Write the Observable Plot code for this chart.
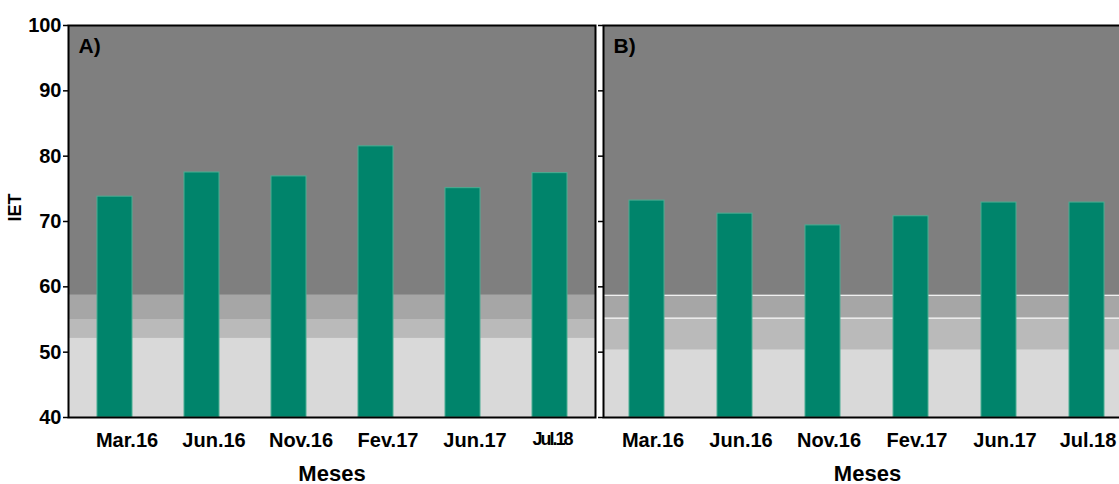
<!DOCTYPE html>
<html><head><meta charset="utf-8">
<script src="https://cdn.jsdelivr.net/npm/d3@7"></script>
<script src="https://cdn.jsdelivr.net/npm/@observablehq/plot@0.6"></script>
<style>
html,body{margin:0;padding:0;background:#fff;overflow:hidden;width:1119px;height:484px;}
#wrap{position:relative;width:1119px;height:484px;}
#a,#b{position:absolute;top:0;}
#a{left:0;}
#b{left:587px;}
svg{font-family:"Liberation Sans",Arial,sans-serif;overflow:visible;max-width:none !important;}
</style></head>
<body><div id="wrap"><div id="a"></div><div id="b"></div></div>
<script>
const months = ["Mar.16","Jun.16","Nov.16","Fev.17","Jun.17","Jul.18"];
const valuesA = [73.8, 77.5, 76.9, 81.5, 75.1, 77.4];
const valuesB = [73.2, 71.2, 69.4, 70.8, 72.9, 72.9];
// trophic state bands per panel
const bandsA = [[40, 52.1], [52.1, 55.0], [55.0, 58.7], [58.7, 100]];
const bandsB = [[40, 50.3], [50.3, 55.2], [55.2, 58.7], [58.7, 100]];
const bandColors = ["#d9d9d9", "#bababa", "#a6a6a6", "#7f7f7f"];
const yTicks = [40, 50, 60, 70, 80, 90, 100];
const yDomain = [40, 100];

function panel(values, bands, label, opts) {
  const bars = months.map((m, i) => ({month: m, value: values[i]}));
  const bandData = bands.map((b, i) => ({y1: b[0], y2: b[1], c: bandColors[i]}));
  const marks = [
    Plot.rect(bandData, {y1: "y1", y2: "y2", fill: "c"}),
  ];
  if (opts.whiteLines) {
    marks.push(Plot.ruleY(bands.slice(1, 3).map(b => b[1]), {stroke: "#ffffff", strokeWidth: 1}));
  }
  marks.push(
    Plot.barY(bars, {x: "month", y1: yDomain[0], y2: "value", fill: "#00846b", stroke: "#4aae93", strokeWidth: 1}),
    Plot.axisY({ticks: yTicks, tickSize: 5, tickPadding: 2, label: null, fontSize: 20, fontWeight: "bold", tickFormat: opts.yLabels ? d => d : () => "", stroke: "#000", strokeWidth: 1.5}),
    Plot.axisX({tickSize: 0, tickPadding: 15, dx: opts.labelDx, label: null, fontSize: 20, fontWeight: "bold"}),
    Plot.text(["Meses"], {frameAnchor: "bottom", dy: 63, fontSize: 22, fontWeight: "bold", fill: "#000"}),
    Plot.text([label], {frameAnchor: "top-left", dx: 10, dy: 13, textAnchor: "start", lineAnchor: "top", fontSize: 21, fontWeight: "bold", fill: "#000"}),
    Plot.frame({stroke: "#000", strokeWidth: 2})
  );
  if (opts.yLabels) {
    marks.push(Plot.text(["IET"], {frameAnchor: "left", dx: -53, rotate: -90, fontSize: 18, fontWeight: "bold", fill: "#000"}));
  }
  const chart = Plot.plot({
    width: opts.width, height: 484,
    marginLeft: opts.marginLeft, marginRight: 0, marginTop: 25, marginBottom: 67,
    x: {domain: months, paddingInner: 0.6, paddingOuter: 0.3, align: 0.5},
    y: {domain: yDomain},
    style: {fontFamily: '"Liberation Sans", Arial, sans-serif', color: "#000", background: "transparent"},
    marks
  });
  const svg = d3.select(chart);
  svg.style("max-width", "none");
  // white box behind panel letter
  svg.selectAll("text").each(function() {
    if (this.textContent === label) {
      const bb = this.getBBox();
      const g = this.closest("g");
      d3.select(g).insert("rect", ":first-child")
        .attr("x", bb.x - 1).attr("y", bb.y + 3).attr("width", bb.width + 1).attr("height", bb.height - 5)
        .attr("fill", "#fff");
    }
  });
  if (opts.narrowLast) {
    svg.selectAll("text").each(function() {
      if (this.textContent === "Jul.18") {
        d3.select(this).style("font-size", "18px").style("letter-spacing", "-2px").attr("dx", -10);
      }
    });
  } else {
    svg.selectAll("text").each(function() {
      if (this.textContent === "Jul.18") d3.select(this).attr("dx", -5);
    });
  }
  return chart;
}

document.getElementById("a").appendChild(panel(valuesA, bandsA, "A)", {width: 595, marginLeft: 68, yLabels: true, narrowLast: true, labelDx: 12}));
document.getElementById("b").appendChild(panel(valuesB, bandsB, "B)", {width: 544, marginLeft: 16, yLabels: false, whiteLines: true, labelDx: 6}));
</script>
</body></html>
